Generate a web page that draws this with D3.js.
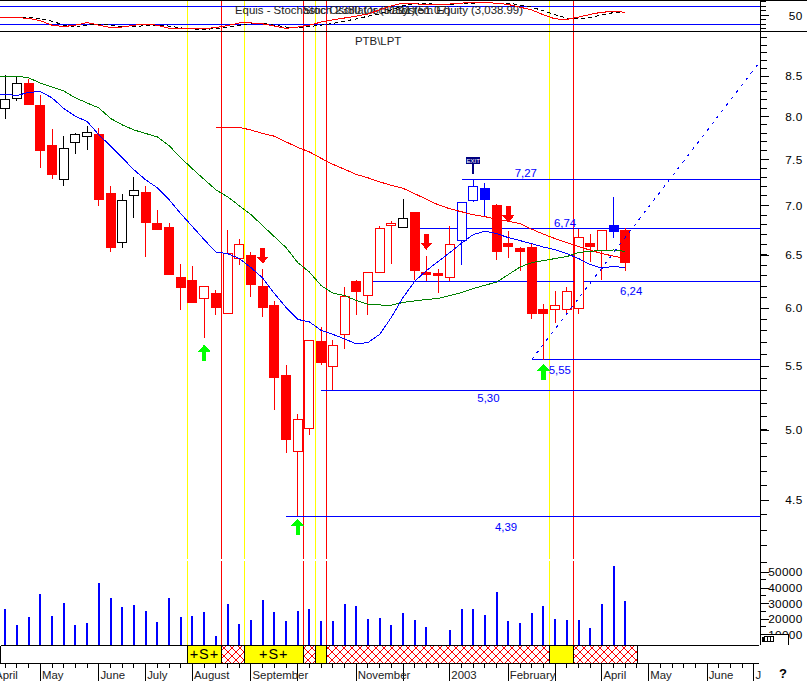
<!DOCTYPE html>
<html>
<head>
<meta charset="utf-8">
<script src="https://cdnjs.cloudflare.com/ajax/libs/d3/7.8.5/d3.min.js"></script>
<style>
body { margin: 0; background: #fff; }
svg { display: block; shape-rendering: crispEdges; }
text { font-family: "Liberation Sans", Arial, sans-serif; font-size: 11.4px; }
.axis path, .axis line { stroke: #000; stroke-width: 1; }
.axis text { font-size: 11.8px; letter-spacing: 0.3px; }
</style>
</head>
<body>
<script>
// weekly bars, April 2002 - April 2003
var opens = [8.094,8.221,8.408,8.138,7.654,7.277,7.697,7.761,7.781,7.124,6.617,7.110,7.134,6.811,6.770,6.282,6.254,6.085,6.134,5.956,6.467,6.493,6.198,6.025,5.426,4.838,5.010,5.709,5.497,5.766,6.244,6.118,6.327,6.793,6.777,6.924,6.327,6.317,6.279,6.643,7.053,7.184,6.997,6.610,6.564,6.571,5.989,5.986,5.986,5.995,6.610,6.544,6.788,6.740];
var highs = [8.513,8.491,8.458,8.258,7.847,7.769,7.804,7.887,7.863,7.209,7.121,7.307,7.209,6.955,6.818,6.416,6.396,6.195,6.170,6.750,6.660,6.532,6.365,6.061,5.508,5.119,5.717,5.836,5.717,6.198,6.260,6.327,6.791,6.835,7.071,6.924,6.493,6.365,6.784,7.036,7.274,7.238,7.018,6.740,6.578,6.610,6.034,6.158,6.195,6.757,6.710,6.750,7.086,6.767];
var lows = [7.966,8.191,8.143,7.409,7.288,7.212,7.566,7.611,6.989,6.525,6.564,6.865,6.476,6.743,6.304,5.983,6.055,5.737,5.936,5.956,6.400,6.106,5.918,5.149,4.830,4.393,4.960,5.510,5.304,5.644,5.936,5.936,6.327,6.416,6.777,6.263,6.254,6.134,6.247,6.400,7.039,6.886,6.447,6.467,6.342,5.903,5.555,5.867,5.953,5.945,6.428,6.256,6.663,6.342];
var closes = [8.209,8.408,8.143,7.600,7.332,7.628,7.789,7.812,7.060,6.574,7.057,7.163,6.824,6.750,6.313,6.189,6.055,6.195,6.007,6.509,6.597,6.219,6.007,5.410,4.926,5.079,5.717,5.532,5.672,6.104,6.152,6.327,6.767,6.818,6.865,6.351,6.311,6.304,6.597,7.036,7.206,7.063,6.534,6.584,6.534,5.956,5.956,6.022,6.154,6.667,6.584,6.737,6.727,6.428];
var volumes = [26400,16200,21300,36000,22000,30300,16200,17300,43000,33300,27700,28800,25000,18000,33400,21100,21800,24300,9000,29400,16700,19200,32000,24300,18800,25000,26200,18800,18800,29600,28300,20000,20700,16200,23900,19400,15000,0,13000,26200,26400,22600,37300,18800,17300,23700,28300,19900,19400,19400,14100,29400,53600,31300];
var blackWeeks = [0,1,5,6,7,10,11,34];
var blueWeeks = [39,40,41,52];

// moving averages, first value is one week before the first bar
var maBlue = [8.27,8.268,8.256,8.293,8.305,8.225,8.096,8.000,7.940,7.781,7.654,7.518,7.384,7.274,7.188,7.060,6.914,6.781,6.650,6.527,6.512,6.464,6.377,6.277,6.134,6.007,5.900,5.878,5.803,5.769,5.730,5.688,5.698,5.769,5.918,6.097,6.247,6.349,6.435,6.522,6.615,6.700,6.735,6.710,6.670,6.640,6.610,6.576,6.551,6.512,6.464,6.406,6.372,6.390,6.374];
var maGreen = [8.50,8.500,8.500,8.475,8.411,8.361,8.312,8.225,8.163,8.102,7.976,7.899,7.839,7.798,7.758,7.657,7.518,7.395,7.279,7.166,7.092,6.997,6.904,6.791,6.680,6.571,6.425,6.334,6.207,6.138,6.115,6.070,6.034,6.029,6.028,6.052,6.066,6.079,6.088,6.115,6.143,6.179,6.210,6.240,6.310,6.382,6.425,6.444,6.464,6.483,6.522,6.536,6.541,6.548,6.534];
// long average only starts at week 18
var maRed = [7.871,7.871,7.869,7.839,7.798,7.766,7.700,7.637,7.585,7.512,7.445,7.390,7.334,7.296,7.252,7.215,7.182,7.124,7.065,7.007,6.965,6.934,6.903,6.883,6.857,6.837,6.811,6.755,6.705,6.660,6.620,6.581,6.546,6.512,6.488,6.464];

var stochK = [46,46,45,43,38,28,25,28,34,28,23,24,28,30,28,21,20,20,20,23,27,33,33,31,26,21,24,28,35,40,44,48,53,62,71,77,76,73,73,75,77,79,78,77,74,68,62,51,42,41,46,52,57,58,57];
var stochD = [46,46,46,45,42,37,28,25,28,30,28,24,25,27,28,26,22,20,18,21,23,28,32,32,28,24,22,25,28,32,37,42,48,53,62,71,76,76,74,74,76,77,78,77,77,73,68,60,51,44,42,45,51,56,57];
var stochLevels = [70,30];

var levels = [7.282,6.757,6.241,5.555,5.304,4.393];
var levelLabels = ["7,27","6,74","6,24","5,55","5,30","4,39"];
var levelStart = [39,35,31,45,27,24];
var levelLabelWeek = [44.5,47.85,53.5,47.4,41.3,42.8];
var levelLabelDy = [-2,-2,13,14,12,15];

var upArrows = [[17,5.68],[25,4.375],[46,5.52]];
var downArrows = [[22,6.416],[36,6.551],[43,6.828]];
var trend = [[45,5.555],[64.43,8.67]];

var yellowLines = [15.58,20.43,26.5,46.5];
var redLines = [18.47,25.47,27.44,48.55];
var bandEdges = [-0.41,15.58,18.47,20.43,25.47,26.5,27.44,46.5,48.55,54.03,64.43];
var bandKinds = ["none","yes","hatch","yes","hatch","yes","hatch","yes","hatch","none"];
var bandText = ["","+S+","","+S+","","","","","",""];

var monthWeeks = [-1,3,8,12,16,21,25,30,34,38,43,47,51,55,60,64];
var monthNames = ["April","May","June","July","August","September","","November","","2003","February","","April","May","June","J"];

var width = 807, height = 681, axisX = 760.5;

var x = d3.scaleLinear().domain([0,53]).range([5.3,625.3]);
var y = d3.scaleLog().domain([4.5,8.5]).range([500,76]);
var yVol = d3.scaleLinear().domain([0,50000]).range([650.5,572]);
var yStoch = d3.scaleLinear().domain([50,70]).range([15.3,6.3]);

var svg = d3.select("body").append("svg")
    .attr("width", width)
    .attr("height", height);

var defs = svg.append("defs");
var hatch = defs.append("pattern")
    .attr("id", "hatch")
    .attr("width", 8)
    .attr("height", 8)
    .attr("patternUnits", "userSpaceOnUse");
hatch.append("rect").attr("width", 8).attr("height", 8).attr("fill", "#fff");
hatch.append("path").attr("d", "M0,0L8,8M8,0L0,8").attr("stroke", "#f00").attr("stroke-width", 1.1);

// signal lines go under everything, with the small break above the volume
function signalLines(weeks, color) {
  [[0,559],[561,645]].forEach(function(seg) {
    svg.append("g").selectAll("line")
        .data(weeks)
      .enter().append("line")
        .attr("x1", x).attr("x2", x)
        .attr("y1", seg[0]).attr("y2", seg[1])
        .attr("stroke", color);
  });
}
signalLines(yellowLines, "#ff0");
signalLines(redLines, "#f00");

// stochastic panel
svg.append("g").selectAll("line")
    .data(stochLevels)
  .enter().append("line")
    .attr("x1", 0).attr("x2", axisX)
    .attr("y1", yStoch).attr("y2", yStoch)
    .attr("stroke", "#00f");

var title = svg.append("g").attr("fill", "#222");
title.append("text").attr("x", 235).attr("y", 14).text("Equis - Stochastic Oscillator (51.11)");
title.append("text").attr("x", 303).attr("y", 14).text("Stoch 2380 Oscillator (51.07)");
title.append("text").attr("x", 523).attr("y", 14).attr("text-anchor", "end").text("System Equity (3,038.99)");

var lineStoch = d3.line()
    .x(function(d, i) { return x(i - 1); })
    .y(function(d) { return yStoch(d); });
svg.append("path").attr("d", lineStoch(stochD))
    .attr("fill", "none").attr("stroke", "#000").attr("stroke-dasharray", "4,3");
svg.append("path").attr("d", lineStoch(stochK))
    .attr("fill", "none").attr("stroke", "#f00");

svg.append("line").attr("x1", 0).attr("x2", width).attr("y1", 31.5).attr("y2", 31.5).attr("stroke", "#000");
svg.append("line").attr("x1", 0).attr("x2", width).attr("y1", 0.5).attr("y2", 0.5).attr("stroke", "#000");

svg.append("text").attr("x", 355).attr("y", 45).attr("fill", "#222").text("PTB\\LPT");

// volume
svg.append("g").selectAll("line")
    .data(volumes)
  .enter().append("line")
    .attr("x1", function(d, i) { return x(i); })
    .attr("x2", function(d, i) { return x(i); })
    .attr("y1", 645)
    .attr("y2", function(d) { return Math.min(yVol(d), 645); })
    .attr("stroke", "#00f")
    .attr("stroke-width", 2);

// horizontal levels
svg.append("g").selectAll("line")
    .data(levels)
  .enter().append("line")
    .attr("x1", function(d, i) { return x(levelStart[i]); })
    .attr("x2", axisX)
    .attr("y1", y).attr("y2", y)
    .attr("stroke", "#00f");
svg.append("g").selectAll("text")
    .data(levels)
  .enter().append("text")
    .attr("x", function(d, i) { return x(levelLabelWeek[i]); })
    .attr("y", function(d, i) { return y(d) + levelLabelDy[i]; })
    .attr("text-anchor", "middle")
    .attr("fill", "#00f")
    .text(function(d, i) { return levelLabels[i]; });

// candles
function tone(i) {
  if (blackWeeks.indexOf(i) >= 0) return "#000";
  if (blueWeeks.indexOf(i) >= 0) return "#00f";
  return "#f00";
}
var weeks = d3.range(opens.length);
var candle = svg.append("g").selectAll("g")
    .data(weeks)
  .enter().append("g");
candle.append("line")
    .attr("x1", x).attr("x2", x)
    .attr("y1", function(i) { return y(highs[i]); })
    .attr("y2", function(i) { return y(lows[i]); })
    .attr("stroke", tone);
candle.append("rect")
    .attr("x", function(i) { return x(i) - 4.5; })
    .attr("width", 9)
    .attr("y", function(i) { return y(Math.max(opens[i], closes[i])); })
    .attr("height", function(i) { return Math.abs(y(opens[i]) - y(closes[i])); })
    .attr("fill", function(i) { return closes[i] > opens[i] ? "#fff" : tone(i); })
    .attr("stroke", tone);

// moving averages
var lineMa = d3.line()
    .x(function(d, i) { return x(i - 1); })
    .y(function(d) { return y(d); });
var lineMaRed = d3.line()
    .x(function(d, i) { return x(i + 18); })
    .y(function(d) { return y(d); });
svg.append("path").attr("d", lineMaRed(maRed)).attr("fill", "none").attr("stroke", "#f00");
svg.append("path").attr("d", lineMa(maGreen)).attr("fill", "none").attr("stroke", "#008000");
svg.append("path").attr("d", lineMa(maBlue)).attr("fill", "none").attr("stroke", "#00f");

// trend line
svg.append("path")
    .attr("d", d3.line()
      .x(function(d) { return x(d[0]); })
      .y(function(d) { return y(d[1]); })(trend))
    .attr("fill", "none")
    .attr("stroke", "#00f")
    .attr("stroke-dasharray", "3,5");

// arrows
svg.append("g").selectAll("path")
    .data(upArrows)
  .enter().append("path")
    .attr("transform", function(d) { return "translate(" + x(d[0]) + "," + y(d[1]) + ")"; })
    .attr("d", "M0,0L6.5,7L2.2,7L2.2,16L-2.2,16L-2.2,7L-6.5,7Z")
    .attr("fill", "#0f0");
svg.append("g").selectAll("path")
    .data(downArrows)
  .enter().append("path")
    .attr("transform", function(d) { return "translate(" + x(d[0]) + "," + y(d[1]) + ")"; })
    .attr("d", "M0,0L6.5,-7L2.2,-7L2.2,-16L-2.2,-16L-2.2,-7L-6.5,-7Z")
    .attr("fill", "#f00");

// exit marker over week 40
var exit = svg.append("g").attr("transform", "translate(" + x(40) + ",157)");
exit.append("line").attr("y1", 6).attr("y2", 17).attr("stroke", "#000080").attr("stroke-width", 2);
exit.append("rect").attr("x", -7).attr("width", 14).attr("height", 6.5).attr("fill", "#000080");
exit.append("text").attr("y", 5.6).attr("text-anchor", "middle").attr("fill", "#fff")
    .style("font-size", "6px").text("EXIT");

// signal band, no border on the right hand end
var band = svg.append("g").selectAll("g")
    .data(bandKinds)
  .enter().append("g");
band.append("rect")
    .attr("x", function(d, i) { return x(bandEdges[i]); })
    .attr("width", function(d, i) { return x(bandEdges[i + 1]) - x(bandEdges[i]); })
    .attr("y", 645.5)
    .attr("height", 18)
    .attr("fill", function(d) { return d == "yes" ? "#ff0" : d == "hatch" ? "url(#hatch)" : "#fff"; });
svg.append("g").selectAll("line")
    .data(bandEdges.slice(0, -1))
  .enter().append("line")
    .attr("x1", x).attr("x2", x)
    .attr("y1", 645.5).attr("y2", 663.5)
    .attr("stroke", "#000");
svg.append("g").selectAll("line")
    .data([645.5,663.5])
  .enter().append("line")
    .attr("x1", x(bandEdges[0])).attr("x2", x(bandEdges[bandEdges.length - 1]))
    .attr("y1", function(d) { return d; }).attr("y2", function(d) { return d; })
    .attr("stroke", "#000");
band.append("text")
    .attr("x", function(d, i) { return (x(bandEdges[i]) + x(bandEdges[i + 1])) / 2; })
    .attr("y", 659)
    .attr("text-anchor", "middle")
    .style("font-size", "14.5px")
    .style("letter-spacing", "1px")
    .text(function(d, i) { return bandText[i]; });

// time axis
var weekTicks = d3.range(0, 65);
svg.append("g").selectAll("line")
    .data(weekTicks)
  .enter().append("line")
    .attr("x1", x).attr("x2", x)
    .attr("y1", 663.5).attr("y2", 668)
    .attr("stroke", "#000");
svg.append("g").selectAll("line")
    .data(monthWeeks)
  .enter().append("line")
    .attr("x1", x).attr("x2", x)
    .attr("y1", 663.5).attr("y2", 681)
    .attr("stroke", "#000");
svg.append("g").selectAll("text")
    .data(monthWeeks)
  .enter().append("text")
    .attr("x", function(d) { return x(d) + 1.5; })
    .attr("y", 679)
    .attr("fill", "#222")
    .text(function(d, i) { return monthNames[i]; });

// right hand axes
var priceAxis = d3.axisRight(y)
    .tickValues([4.5,5,5.5,6,6.5,7,7.5,8,8.5])
    .tickSize(8)
    .tickFormat(d3.format(".1f"));
var gPrice = svg.append("g").attr("class", "axis")
    .attr("transform", "translate(" + axisX + ",0)")
    .call(priceAxis);
gPrice.select(".domain").remove();
gPrice.selectAll("text").attr("x", 42).attr("text-anchor", "end");

svg.append("line").attr("x1", axisX).attr("x2", axisX).attr("y1", 0).attr("y2", 645)
    .attr("stroke", "#000");

var priceMinor = d3.range(41, 91).map(function(d) { return d / 10; });
svg.append("g").selectAll("line")
    .data(priceMinor)
  .enter().append("line")
    .attr("x1", axisX).attr("x2", axisX + 6)
    .attr("y1", y).attr("y2", y)
    .attr("stroke", "#000");

var volAxis = d3.axisRight(yVol)
    .tickValues([10000,20000,30000,40000,50000])
    .tickSize(8)
    .tickFormat(d3.format("d"));
var gVol = svg.append("g").attr("class", "axis")
    .attr("transform", "translate(" + axisX + ",0)")
    .call(volAxis);
gVol.select(".domain").remove();
gVol.selectAll("text").attr("x", 42).attr("text-anchor", "end");

svg.append("g").selectAll("line")
    .data([5000,15000,25000,35000,45000])
  .enter().append("line")
    .attr("x1", axisX).attr("x2", axisX + 5)
    .attr("y1", yVol).attr("y2", yVol)
    .attr("stroke", "#000");

var stochAxis = d3.axisRight(yStoch)
    .tickValues([50])
    .tickSize(8)
    .tickFormat(d3.format("d"));
var gStoch = svg.append("g").attr("class", "axis")
    .attr("transform", "translate(" + axisX + ",0)")
    .call(stochAxis);
gStoch.select(".domain").remove();
gStoch.selectAll("text").attr("x", 42).attr("text-anchor", "end");
svg.append("g").selectAll("line")
    .data([20,30,40,60,70,80])
  .enter().append("line")
    .attr("x1", axisX).attr("x2", axisX + 5)
    .attr("y1", yStoch).attr("y2", yStoch)
    .attr("stroke", "#000");

// little box that sits over the 10000 label
var corner = svg.append("g");
corner.append("rect").attr("x", 761).attr("y", 634.5).attr("width", 27).attr("height", 11).attr("fill", "#fff");
corner.append("path").attr("d", "M761,634.5H788.5V645").attr("fill", "none").attr("stroke", "#000");
corner.append("rect").attr("x", 761.5).attr("y", 636.5).attr("width", 2.5).attr("height", 5).attr("fill", "#000");
corner.selectAll("g")
    .data([0,1,2])
  .enter().append("rect")
    .attr("x", function(d) { return 764.5 + d * 3; })
    .attr("y", 636.5).attr("width", 3).attr("height", 4.5)
    .attr("fill", "none").attr("stroke", "#000");

svg.append("text").attr("x", 779).attr("y", 678).attr("font-weight", "bold")
    .style("font-size", "13px").text("?");
</script>
</body>
</html>
